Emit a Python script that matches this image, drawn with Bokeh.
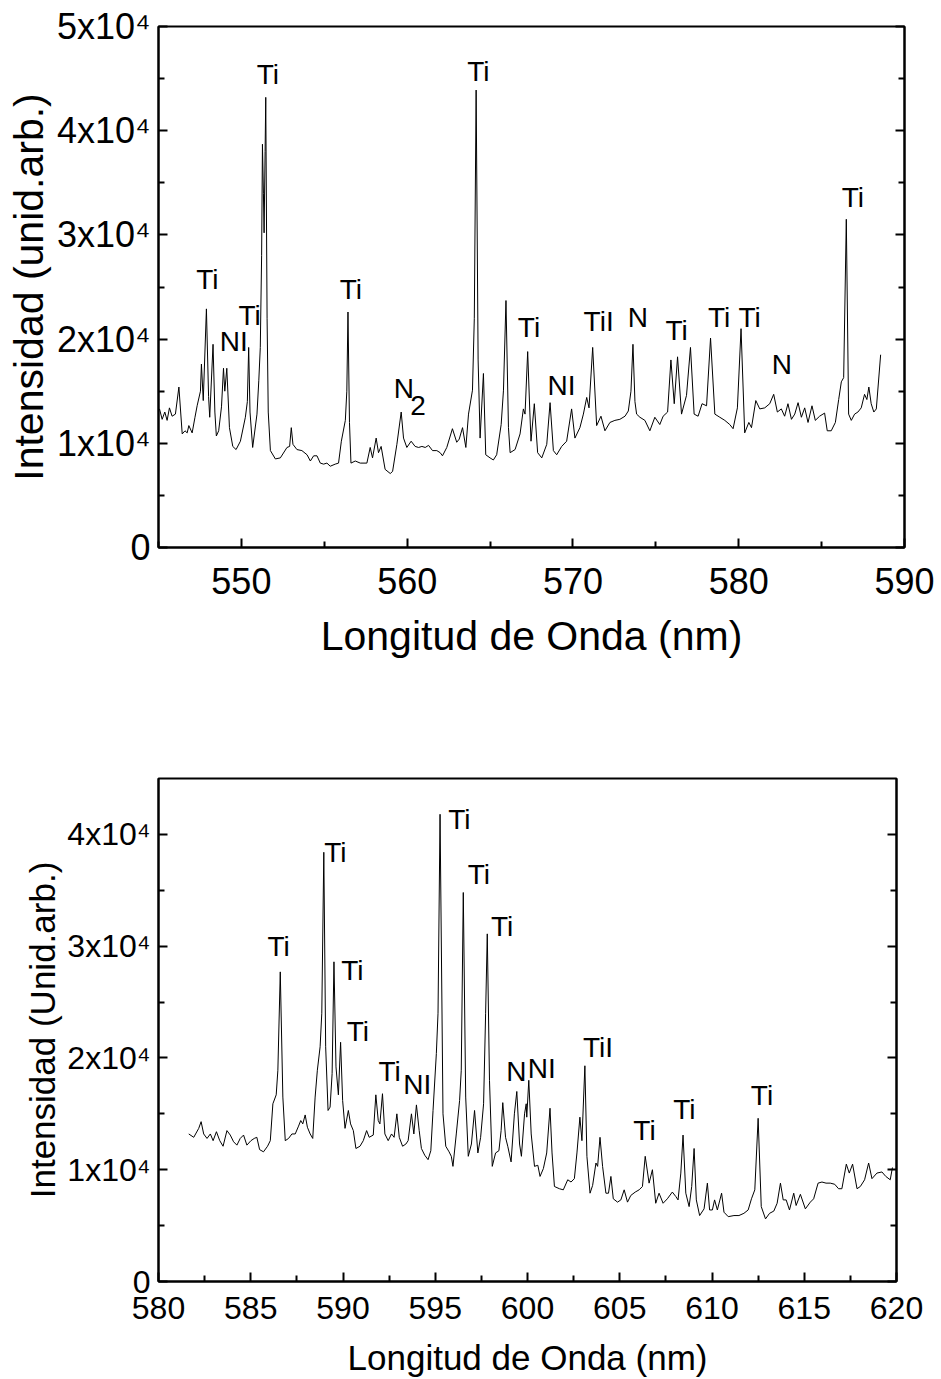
from bokeh.plotting import figure
from bokeh.layouts import column
from bokeh.models import (FixedTicker, LinearAxis, Range1d, CustomJSTickFormatter,
                          ColumnDataSource)
from bokeh.core.properties import value
from bokeh.embed import file_html
from bokeh.resources import INLINE

FONT = "Liberation Sans"

# ---------------- data: upper spectrum (wavelength nm, intensity in 1e4 arb. units)
top_wavelength = [
    545.06, 545.22, 545.38, 545.52, 545.66, 545.82, 546.02, 546.23, 546.43, 546.60,
    546.73, 546.83, 547.03, 547.20, 547.33, 547.53, 547.59, 547.70, 547.89, 548.02,
    548.09, 548.29, 548.40, 548.49, 548.63, 548.80, 548.92, 549.00, 549.12, 549.28,
    549.48, 549.68, 549.94, 550.24, 550.36, 550.44, 550.52, 550.68, 550.94, 551.05,
    551.14, 551.22, 551.27, 551.33, 551.37, 551.43, 551.47, 551.55, 551.62, 551.75,
    552.05, 552.35, 552.75, 552.91, 553.01, 553.11, 553.35, 553.65, 553.96, 554.16,
    554.36, 554.56, 554.76, 554.96, 555.16, 555.36, 555.66, 555.86, 556.03, 556.27,
    556.36, 556.43, 556.52, 556.61, 556.87, 557.17, 557.57, 557.77, 557.91, 558.13,
    558.27, 558.43, 558.67, 558.98, 559.12, 559.38, 559.64, 559.78, 559.98, 560.24,
    560.48, 560.69, 560.89, 561.09, 561.29, 561.53, 561.79, 561.99, 562.13, 562.39,
    562.73, 562.99, 563.14, 563.34, 563.54, 563.70, 563.94, 564.05, 564.16, 564.28,
    564.40, 564.60, 564.74, 565.00, 565.20, 565.40, 565.67, 565.81, 565.96, 566.11,
    566.21, 566.51, 566.81, 567.01, 567.11, 567.27, 567.40, 567.47, 567.67, 567.87,
    568.12, 568.42, 568.62, 568.82, 569.02, 569.32, 569.62, 569.92, 570.12, 570.42,
    570.63, 570.83, 570.97, 571.19, 571.43, 571.69, 571.93, 572.23, 572.53, 572.83,
    573.14, 573.34, 573.50, 573.62, 573.74, 573.84, 574.04, 574.34, 574.64, 574.94,
    575.24, 575.44, 575.71, 575.91, 576.11, 576.31, 576.55, 576.85, 577.09, 577.31,
    577.55, 577.79, 578.06, 578.30, 578.56, 578.86, 579.16, 579.46, 579.66, 579.92,
    580.14, 580.36, 580.61, 580.77, 581.03, 581.27, 581.57, 581.87, 582.11, 582.33,
    582.57, 582.77, 582.97, 583.18, 583.38, 583.58, 583.78, 583.98, 584.18, 584.42,
    584.62, 584.88, 585.18, 585.34, 585.58, 585.83, 586.03, 586.19, 586.33, 586.49,
    586.63, 586.79, 586.99, 587.19, 587.39, 587.59, 587.73, 587.85, 587.99, 588.15,
    588.30, 588.56]
top_intensity_e4 = [
    1.33, 1.23, 1.30, 1.22, 1.34, 1.26, 1.28, 1.54, 1.09, 1.12,
    1.10, 1.17, 1.10, 1.25, 1.36, 1.50, 1.76, 1.41, 2.29, 1.45,
    1.25, 1.95, 1.30, 1.07, 1.12, 1.35, 1.72, 1.50, 1.72, 1.15,
    0.97, 0.94, 1.02, 1.25, 1.40, 1.92, 1.30, 0.96, 1.28, 1.60,
    1.92, 2.80, 3.87, 3.40, 3.02, 3.80, 4.32, 2.20, 1.30, 0.93,
    0.85, 0.86, 0.96, 0.97, 1.15, 0.99, 0.94, 0.93, 0.89, 0.83,
    0.88, 0.88, 0.81, 0.80, 0.81, 0.78, 0.80, 0.81, 1.02, 1.22,
    1.50, 2.26, 1.20, 0.81, 0.83, 0.81, 0.81, 0.96, 0.86, 1.05,
    0.91, 0.97, 0.75, 0.71, 0.73, 0.99, 1.30, 1.05, 0.96, 1.02,
    0.97, 0.96, 0.97, 0.96, 0.98, 0.93, 0.93, 0.91, 0.88, 0.96,
    1.14, 1.01, 1.04, 1.15, 0.96, 1.28, 1.51, 2.20, 4.39, 1.80,
    1.05, 1.67, 0.89, 0.86, 0.84, 0.89, 1.18, 1.51, 2.37, 1.15,
    0.91, 0.94, 1.09, 1.33, 1.28, 1.88, 1.30, 1.02, 1.38, 0.91,
    0.86, 0.99, 1.39, 0.93, 0.89, 0.97, 1.02, 1.33, 1.05, 1.15,
    1.28, 1.44, 1.34, 1.92, 1.17, 1.26, 1.12, 1.20, 1.22, 1.23,
    1.26, 1.31, 1.50, 1.95, 1.40, 1.28, 1.25, 1.22, 1.12, 1.25,
    1.18, 1.26, 1.30, 1.80, 1.38, 1.83, 1.28, 1.46, 1.92, 1.28,
    1.26, 1.38, 1.36, 2.01, 1.28, 1.25, 1.22, 1.18, 1.14, 1.34,
    2.10, 1.10, 1.20, 1.15, 1.41, 1.33, 1.34, 1.38, 1.47, 1.30,
    1.33, 1.26, 1.38, 1.23, 1.28, 1.39, 1.25, 1.34, 1.20, 1.36,
    1.22, 1.26, 1.29, 1.12, 1.12, 1.20, 1.42, 1.59, 1.63, 3.15,
    1.28, 1.22, 1.28, 1.30, 1.34, 1.47, 1.42, 1.54, 1.38, 1.30,
    1.33, 1.85]

top_labels = ["Ti", "NI", "Ti", "Ti", "Ti", "N", "Ti", "Ti", "NI", "TiI",
              "N", "Ti", "Ti", "Ti", "N", "Ti"]
top_label_x = [547.95, 549.54, 550.50, 551.60, 556.60, 559.80, 564.30, 567.35, 569.31, 571.55,
               573.92, 576.25, 578.82, 580.66, 582.60, 586.88]
top_label_y_e4 = [2.57, 1.98, 2.23, 4.54, 2.48, 1.53, 4.57, 2.11, 1.55, 2.17,
                  2.21, 2.08, 2.21, 2.21, 1.76, 3.36]
top_sub_labels = ["2"]
top_sub_x = [560.66]
top_sub_y_e4 = [1.36]

# ---------------- data: lower spectrum
bot_wavelength = [
    581.64, 581.91, 582.18, 582.31, 582.45, 582.63, 582.81, 582.96, 583.14, 583.32,
    583.50, 583.71, 583.89, 584.07, 584.25, 584.43, 584.61, 584.79, 585.01, 585.19,
    585.33, 585.48, 585.69, 585.91, 586.06, 586.20, 586.38, 586.47, 586.60, 586.74,
    586.87, 587.05, 587.23, 587.41, 587.59, 587.71, 587.82, 587.95, 588.07, 588.22,
    588.36, 588.49, 588.61, 588.76, 588.85, 588.96, 589.06, 589.19, 589.30, 589.41,
    589.51, 589.62, 589.75, 589.87, 589.98, 590.11, 590.29, 590.41, 590.56, 590.70,
    590.92, 591.10, 591.28, 591.42, 591.64, 591.78, 591.91, 592.00, 592.14, 592.27,
    592.45, 592.63, 592.77, 592.92, 593.05, 593.23, 593.41, 593.53, 593.71, 593.84,
    593.98, 594.13, 594.25, 594.43, 594.61, 594.76, 594.88, 595.06, 595.15, 595.26,
    595.42, 595.57, 595.75, 595.87, 595.96, 596.14, 596.32, 596.41, 596.52, 596.65,
    596.79, 596.96, 597.13, 597.31, 597.46, 597.62, 597.73, 597.82, 597.94, 598.09,
    598.27, 598.45, 598.57, 598.66, 598.81, 598.93, 599.11, 599.29, 599.42, 599.57,
    599.67, 599.84, 599.93, 599.96, 600.07, 600.20, 600.38, 600.56, 600.68, 600.86,
    601.04, 601.22, 601.33, 601.46, 601.73, 601.94, 602.18, 602.36, 602.54, 602.68,
    602.84, 602.95, 603.11, 603.22, 603.39, 603.53, 603.71, 603.80, 603.93, 604.07,
    604.25, 604.39, 604.52, 604.65, 604.88, 605.06, 605.24, 605.42, 605.60, 605.84,
    606.05, 606.23, 606.38, 606.59, 606.77, 606.95, 607.13, 607.35, 607.58, 607.85,
    608.04, 608.16, 608.31, 608.43, 608.58, 608.76, 608.90, 609.03, 609.15, 609.33,
    609.57, 609.75, 609.87, 610.02, 610.14, 610.29, 610.52, 610.65, 610.88, 611.19,
    611.46, 611.73, 611.96, 612.14, 612.32, 612.50, 612.67, 612.90, 613.12, 613.35,
    613.53, 613.71, 613.86, 614.02, 614.20, 614.43, 614.56, 614.79, 615.06, 615.33,
    615.51, 615.75, 615.96, 616.18, 616.41, 616.65, 616.86, 617.04, 617.28, 617.44,
    617.62, 617.86, 618.04, 618.27, 618.49, 618.67, 618.94, 619.21, 619.42, 619.66,
    619.78]
bot_intensity_e4 = [
    1.32, 1.29, 1.37, 1.43, 1.32, 1.28, 1.32, 1.26, 1.34, 1.26,
    1.21, 1.35, 1.31, 1.25, 1.22, 1.28, 1.31, 1.22, 1.26, 1.28,
    1.29, 1.18, 1.16, 1.21, 1.26, 1.59, 1.67, 1.89, 2.77, 1.65,
    1.26, 1.28, 1.32, 1.32, 1.39, 1.44, 1.41, 1.49, 1.38, 1.32,
    1.28, 1.65, 1.89, 2.10, 2.40, 3.84, 2.10, 1.53, 1.56, 1.86,
    2.86, 1.92, 1.67, 2.14, 1.62, 1.37, 1.53, 1.41, 1.35, 1.19,
    1.21, 1.26, 1.35, 1.29, 1.31, 1.67, 1.44, 1.41, 1.68, 1.32,
    1.26, 1.32, 1.29, 1.50, 1.29, 1.21, 1.23, 1.26, 1.50, 1.32,
    1.58, 1.35, 1.19, 1.13, 1.09, 1.17, 1.53, 2.04, 2.40, 4.18,
    1.50, 1.21, 1.16, 1.12, 1.03, 1.32, 1.62, 1.89, 3.48, 1.65,
    1.12, 1.23, 1.53, 1.15, 1.29, 1.59, 2.40, 3.11, 1.80, 1.03,
    1.15, 1.17, 1.35, 1.60, 1.29, 1.21, 1.07, 1.50, 1.70, 1.23,
    1.12, 1.50, 1.59, 1.47, 1.80, 1.32, 1.03, 1.04, 0.94, 1.01,
    1.15, 1.55, 1.15, 0.85, 0.83, 0.82, 0.91, 0.89, 0.92, 1.15,
    1.47, 1.26, 1.93, 1.12, 0.79, 0.86, 1.06, 1.03, 1.29, 1.03,
    0.79, 0.79, 0.94, 0.74, 0.71, 0.73, 0.82, 0.71, 0.77, 0.80,
    0.82, 0.85, 1.12, 0.88, 1.00, 0.70, 0.79, 0.70, 0.74, 0.80,
    0.76, 0.73, 0.97, 1.31, 0.79, 0.67, 0.85, 1.19, 0.73, 0.59,
    0.65, 0.88, 0.64, 0.64, 0.73, 0.64, 0.79, 0.62, 0.58, 0.59,
    0.59, 0.61, 0.64, 0.74, 0.82, 1.46, 0.67, 0.56, 0.61, 0.63,
    0.70, 0.88, 0.73, 0.73, 0.64, 0.79, 0.68, 0.78, 0.65, 0.71,
    0.74, 0.88, 0.89, 0.88, 0.88, 0.87, 0.83, 0.83, 1.05, 0.97,
    1.05, 0.83, 0.85, 0.91, 1.06, 0.92, 0.97, 0.98, 0.94, 0.91,
    1.02]

bot_labels = ["Ti", "Ti", "Ti", "Ti", "Ti", "NI", "Ti", "Ti", "Ti", "N",
              "NI", "TiI", "Ti", "Ti", "Ti"]
bot_label_x = [586.51, 589.59, 590.51, 590.81, 592.53, 594.03, 596.31, 597.36, 598.62, 599.39,
               600.77, 603.82, 606.34, 608.50, 612.71]
bot_label_y_e4 = [3.00, 3.84, 2.78, 2.24, 1.88, 1.76, 4.13, 3.64, 3.18, 1.88,
                  1.91, 2.09, 1.35, 1.54, 1.66]

top_x_major = [550, 560, 570, 580, 590]
top_x_minor = [545, 555, 565, 575, 585]
top_y_major = [0, 10000, 20000, 30000, 40000, 50000]
top_y_minor = [5000, 15000, 25000, 35000, 45000]
bot_x_major = [580, 585, 590, 595, 600, 605, 610, 615, 620]
bot_x_minor = [582.5, 587.5, 592.5, 597.5, 602.5, 607.5, 612.5, 617.5]
bot_y_major = [0, 10000, 20000, 30000, 40000]
bot_y_minor = [5000, 15000, 25000, 35000]

top_xlabel = "Longitud de Onda (nm)"
top_ylabel = "Intensidad (unid.arb.)"
bot_xlabel = "Longitud de Onda (nm)"
bot_ylabel = "Intensidad (Unid.arb.)"

SCALE = 1e4
Y_FMT = "return tick == 0 ? '0' : Math.round(tick/10000) + 'x10\\u2074';"


def style_axis(ax, tick_size, title_size, label_standoff, title_standoff):
    ax.axis_line_width = 2
    ax.axis_line_color = "black"
    ax.major_tick_line_width = 2
    ax.minor_tick_line_width = 2
    ax.major_tick_line_color = "black"
    ax.minor_tick_line_color = "black"
    ax.major_tick_in = 9
    ax.major_tick_out = 0
    ax.minor_tick_in = 6
    ax.minor_tick_out = 0
    ax.major_label_text_font = FONT
    ax.major_label_text_font_size = tick_size
    ax.major_label_text_color = "black"
    ax.major_label_standoff = label_standoff
    ax.axis_label_text_font = FONT
    ax.axis_label_text_font_size = title_size
    ax.axis_label_text_font_style = "normal"
    ax.axis_label_text_color = "black"
    ax.axis_label_standoff = title_standoff


def make_panel(wl, inten_e4, xr, yr, xmaj, xmin, ymaj, ymin, xlabel, ylabel,
               labels, lx, ly_e4, fw, fh, bl, br, bt, bb,
               tick_size, title_size, x_lab_standoff, x_title_standoff, ann_size):
    p = figure(x_range=Range1d(*xr), y_range=Range1d(*yr),
               frame_width=fw, frame_height=fh,
               min_border_left=bl, min_border_right=br,
               min_border_top=bt, min_border_bottom=bb,
               output_backend="svg", toolbar_location=None,
               background_fill_color="white", border_fill_color="white")
    p.xgrid.visible = False
    p.ygrid.visible = False
    p.outline_line_color = "black"
    p.outline_line_width = 2
    p.outline_line_alpha = 1.0

    xt = FixedTicker(ticks=xmaj, minor_ticks=xmin)
    yt = FixedTicker(ticks=ymaj, minor_ticks=ymin)
    p.xaxis.ticker = xt
    p.yaxis.ticker = yt
    p.yaxis.formatter = CustomJSTickFormatter(code=Y_FMT)
    p.xaxis.axis_label = xlabel
    p.yaxis.axis_label = ylabel
    for ax in p.xaxis:
        style_axis(ax, tick_size, title_size, x_lab_standoff, x_title_standoff)
    for ax in p.yaxis:
        style_axis(ax, tick_size, title_size, 8, 2)

    right = LinearAxis(ticker=FixedTicker(ticks=ymaj, minor_ticks=ymin),
                       formatter=CustomJSTickFormatter(code="return '';"))
    style_axis(right, "1px", "1px", 0, 0)
    p.add_layout(right, "right")

    y = [v * SCALE for v in inten_e4]
    p.line(wl, y, line_color="black", line_width=1)

    src = ColumnDataSource(dict(x=lx, y=[v * SCALE for v in ly_e4], t=labels))
    p.text(x="x", y="y", text="t", source=src, text_font=value(FONT),
           text_font_size=ann_size, text_align="center", text_baseline="middle",
           text_color="black")
    return p


p1 = make_panel(top_wavelength, top_intensity_e4, (545, 590), (0, 50000),
                top_x_major, top_x_minor, top_y_major, top_y_minor,
                top_xlabel, top_ylabel, top_labels, top_label_x, top_label_y_e4,
                fw=746, fh=521, bl=158, br=30, bt=26, bb=153,
                tick_size="36px", title_size="41px",
                x_lab_standoff=20, x_title_standoff=16, ann_size="28px")
sub_src = ColumnDataSource(dict(x=top_sub_x, y=[v * SCALE for v in top_sub_y_e4],
                                t=top_sub_labels))
p1.text(x="x", y="y", text="t", source=sub_src, text_font=value(FONT),
        text_font_size="28px", text_align="center", text_baseline="middle",
        text_color="black")

p2 = make_panel(bot_wavelength, bot_intensity_e4, (580, 620), (0, 45000),
                bot_x_major, bot_x_minor, bot_y_major, bot_y_minor,
                bot_xlabel, bot_ylabel, bot_labels, bot_label_x, bot_label_y_e4,
                fw=738, fh=503, bl=158, br=30, bt=78, bb=97,
                tick_size="32px", title_size="35px",
                x_lab_standoff=15, x_title_standoff=16, ann_size="28px")

layout = column(p1, p2, spacing=0)
open("out.html", "w").write(file_html(layout, INLINE, "Espectros"))
